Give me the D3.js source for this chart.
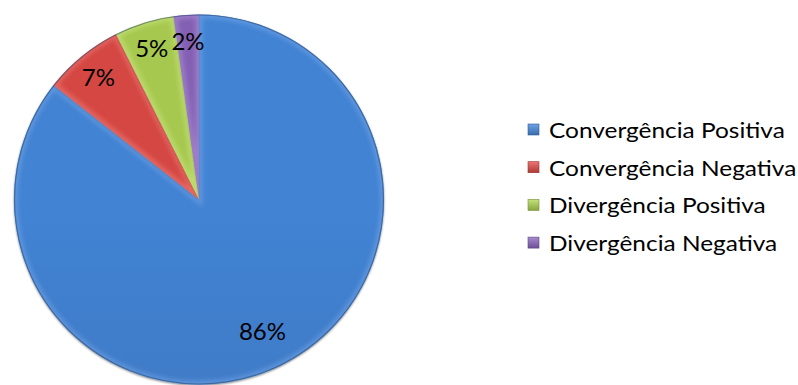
<!DOCTYPE html>
<html><head><meta charset="utf-8">
<script src="https://cdn.jsdelivr.net/npm/d3@7"></script>
<style>html,body{margin:0;padding:0;background:#fff;}svg{display:block;}</style>
</head><body>
<script>
const categories = ["Convergência Positiva","Convergência Negativa","Divergência Positiva","Divergência Negativa"];
const values = [85.6, 7.0, 5.2, 2.2];
const labels = ["86%","7%","5%","2%"];
const colors = ["#3F7CC8","#C9423F","#9DBE4C","#7C5BAA"];
const lightColors = ["#6FA2E6","#EC7471","#C6E27C","#A88AD2"];

const W = 798, H = 385;
const cx = 199, cy = 199.5, R = 185;

const svg = d3.select("body").append("svg").attr("width", W).attr("height", H);
const defs = svg.append("defs");

const sh = defs.append("filter").attr("id","shadow").attr("x","-10%").attr("y","-10%").attr("width","120%").attr("height","120%");
sh.append("feGaussianBlur").attr("in","SourceAlpha").attr("stdDeviation",1.2).attr("result","b");
sh.append("feOffset").attr("in","b").attr("dx",0).attr("dy",1).attr("result","o");
sh.append("feComponentTransfer").attr("in","o").attr("result","o2").append("feFuncA").attr("type","linear").attr("slope",0.5);
const m = sh.append("feMerge"); m.append("feMergeNode").attr("in","o2"); m.append("feMergeNode").attr("in","SourceGraphic");

const blur = defs.append("filter").attr("id","blur").attr("x","-10%").attr("y","-10%").attr("width","120%").attr("height","120%");
blur.append("feGaussianBlur").attr("stdDeviation",2.5);

colors.forEach((c,i)=>{
  const g = defs.append("linearGradient").attr("id","g"+i).attr("gradientUnits","userSpaceOnUse")
    .attr("x1",0).attr("y1",cy-R).attr("x2",0).attr("y2",cy+R);
  g.append("stop").attr("offset",0).attr("stop-color", d3.color(c).brighter(0.15));
  g.append("stop").attr("offset",1).attr("stop-color", d3.color(c).darker(0.2));
});

const pie = d3.pie().value(d=>d).sort(null);
const arcs = pie(values);
const arc = d3.arc().innerRadius(0).outerRadius(R);

const gPie = svg.append("g").attr("transform",`translate(${cx},${cy})`);

arcs.forEach((a,i)=>{
  defs.append("clipPath").attr("id","clip"+i).append("path").attr("d",arc(a)).attr("transform",`translate(${cx},${cy})`);
  gPie.append("g").attr("filter","url(#shadow)")
    .append("path").attr("d",arc(a)).attr("fill",`url(#g${i})`);
});
arcs.forEach((a,i)=>{
  const cg = svg.append("g").attr("clip-path",`url(#clip${i})`);
  cg.append("path").attr("d",arc(a)).attr("transform",`translate(${cx},${cy})`)
    .attr("fill","none").attr("stroke",lightColors[i]).attr("stroke-width",7).attr("filter","url(#blur)").attr("opacity",0.7);
});
svg.append("circle").attr("cx",cx).attr("cy",cy).attr("r",R-0.5).attr("fill","none")
  .attr("stroke","#203f66").attr("stroke-opacity",0.5).attr("stroke-width",1.2);

const labelFont = "Lato, 'Open Sans', sans-serif";
arcs.forEach((a,i)=>{
  const rr = i===0 ? 0.785*R : 0.86*R;
  const mid = (a.startAngle+a.endAngle)/2;
  const x = cx + rr*Math.sin(mid), y = cy - rr*Math.cos(mid);
  svg.append("text").attr("x",x).attr("y",y).attr("text-anchor","middle").attr("dominant-baseline","central")
    .attr("font-family",labelFont).attr("font-size",24).attr("fill","#000").text(labels[i]);
});

const legX = 528, legY0 = 129.5, legStep = 37.7, legFs = 22, stretch = 1.11;
const lg = svg.append("g");
categories.forEach((c,i)=>{
  const y = legY0 + i*legStep;
  const gradId = "lg"+i;
  const g = defs.append("linearGradient").attr("id",gradId).attr("x1",0).attr("y1",0).attr("x2",0).attr("y2",1);
  g.append("stop").attr("offset",0).attr("stop-color",lightColors[i]);
  g.append("stop").attr("offset",1).attr("stop-color",d3.color(colors[i]).darker(0.4));
  lg.append("rect").attr("x",legX).attr("y",y-5.5).attr("width",11).attr("height",11).attr("fill",`url(#${gradId})`)
    .attr("stroke",d3.color(colors[i]).darker(0.8)).attr("stroke-width",0.6);
  const t = lg.append("text").attr("x",legX+21).attr("y",y).attr("dominant-baseline","central")
    .attr("font-family",labelFont).attr("font-size",legFs).attr("fill","#000").text(c);
  const w = t.node().getComputedTextLength();
  t.attr("textLength", w*stretch).attr("lengthAdjust","spacingAndGlyphs");
});
</script>
</body></html>
